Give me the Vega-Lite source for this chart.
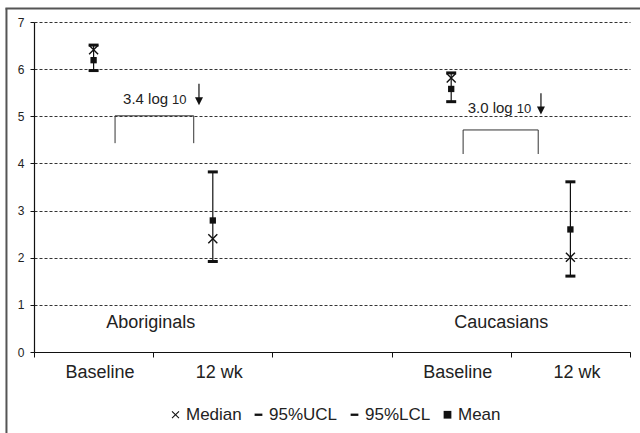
{
  "$schema": "https://vega.github.io/schema/vega-lite/v6.json",
  "autosize": "none",
  "width": 596,
  "height": 330,
  "padding": {"left": 34, "top": 22, "right": 10, "bottom": 81},
  "background": "white",
  "config": {
    "font": "Liberation Sans",
    "view": {"stroke": null},
    "axis": {"domainColor": "#111", "tickColor": "#111", "labelColor": "#222", "title": null, "domainWidth": 1.2},
    "axisY": {"grid": true, "gridDash": [3, 2], "gridColor": "#333", "gridWidth": 1, "tickSize": 4, "labelPadding": 6, "labelFontSize": 12, "values": [0, 1, 2, 3, 4, 5, 6, 7]},
    "axisX": {"grid": false}
  },
  "datasets": {
    "stats": [
      {"cat": "Aboriginals Baseline", "median": 6.41, "ucl": 6.51, "lcl": 5.97, "mean": 6.19},
      {"cat": "Aboriginals 12 wk", "median": 2.4, "ucl": 3.82, "lcl": 1.92, "mean": 2.79},
      {"cat": "Caucasians Baseline", "median": 5.81, "ucl": 5.92, "lcl": 5.31, "mean": 5.58},
      {"cat": "Caucasians 12 wk", "median": 2.01, "ucl": 3.61, "lcl": 1.61, "mean": 2.6}
    ],
    "bracket": [
      {"b": "A", "o": 1, "x": 0.68, "y": 4.43},
      {"b": "A", "o": 2, "x": 0.68, "y": 5.01},
      {"b": "A", "o": 3, "x": 1.34, "y": 5.01},
      {"b": "A", "o": 4, "x": 1.34, "y": 4.43},
      {"b": "C", "o": 1, "x": 3.6, "y": 4.2},
      {"b": "C", "o": 2, "x": 3.6, "y": 4.71},
      {"b": "C", "o": 3, "x": 4.23, "y": 4.71},
      {"b": "C", "o": 4, "x": 4.23, "y": 4.2}
    ],
    "arrows": [
      {"x": 1.384, "y": 5.69, "y2": 5.33, "tip": 5.33},
      {"x": 4.253, "y": 5.49, "y2": 5.13, "tip": 5.13}
    ],
    "groups": [
      {"text": "Aboriginals", "x": 0.98, "y": 0.61},
      {"text": "Caucasians", "x": 3.92, "y": 0.61}
    ],
    "logs": [
      {"text": "3.4 log", "x": 0.747, "y": 5.26},
      {"text": "3.0 log", "x": 3.638, "y": 5.07}
    ],
    "tens": [
      {"text": "10", "x": 1.158, "y": 5.26},
      {"text": "10", "x": 4.05, "y": 5.07}
    ]
  },
  "layer": [
    {
      "layer": [
        {
          "data": {"name": "bracket"},
          "mark": {"type": "line", "color": "#333", "strokeWidth": 1},
          "encoding": {
            "x": {"field": "x", "type": "quantitative", "scale": {"domain": [0, 5], "nice": false, "zero": false},
              "axis": {
                "values": [0, 0.5, 1, 1.5, 2, 2.5, 3, 3.5, 4, 4.5, 5],
                "labelExpr": "datum.value == 0.5 || datum.value == 3.5 ? 'Baseline' : (datum.value == 1.5 || datum.value == 4.5 ? '12 wk' : '')",
                "tickOpacity": {"condition": {"test": "datum.value % 1 != 0", "value": 0}, "value": 1},
                "tickSize": 5,
                "labelFontSize": 18,
                "labelPadding": 6,
                "labelOffset": 6,
                "labelFlush": false,
                "labelOverlap": false,
                "labelBound": false
              }},
            "y": {"field": "y", "type": "quantitative", "scale": {"domain": [0, 7], "nice": false, "zero": true}},
            "detail": {"field": "b"},
            "order": {"field": "o"}
          }
        },
        {
          "data": {"values": [{}]},
          "mark": {"type": "rule", "color": "#555", "strokeWidth": 2},
          "encoding": {
            "x": {"datum": -0.231, "type": "quantitative"},
            "y": {"datum": 7.287, "type": "quantitative"},
            "y2": {"datum": -2}
          }
        },
        {
          "data": {"values": [{}]},
          "mark": {"type": "rule", "color": "#555", "strokeWidth": 2},
          "encoding": {
            "x": {"datum": -0.24, "type": "quantitative"},
            "x2": {"datum": 5.2},
            "y": {"datum": 7.287, "type": "quantitative"}
          }
        },
        {
          "data": {"name": "arrows"},
          "mark": {"type": "rule", "color": "#111", "strokeWidth": 1.2},
          "encoding": {
            "x": {"field": "x", "type": "quantitative"},
            "y": {"field": "y", "type": "quantitative"},
            "y2": {"field": "y2"}
          }
        },
        {
          "data": {"name": "arrows"},
          "mark": {"type": "point", "shape": "M-1,-0.9L1,-0.9L0,1.1Z", "filled": true, "color": "#111", "size": 64, "opacity": 1},
          "encoding": {
            "x": {"field": "x", "type": "quantitative"},
            "y": {"field": "tip", "type": "quantitative"}
          }
        },
        {
          "data": {"name": "groups"},
          "mark": {"type": "text", "fontSize": 18, "color": "#222", "baseline": "middle", "align": "center"},
          "encoding": {
            "x": {"field": "x", "type": "quantitative"},
            "y": {"field": "y", "type": "quantitative"},
            "text": {"field": "text"}
          }
        },
        {
          "data": {"name": "logs"},
          "mark": {"type": "text", "fontSize": 15, "color": "#222", "baseline": "alphabetic", "align": "left"},
          "encoding": {
            "x": {"field": "x", "type": "quantitative"},
            "y": {"field": "y", "type": "quantitative"},
            "text": {"field": "text"}
          }
        },
        {
          "data": {"name": "tens"},
          "mark": {"type": "text", "fontSize": 13, "color": "#222", "baseline": "alphabetic", "align": "left"},
          "encoding": {
            "x": {"field": "x", "type": "quantitative"},
            "y": {"field": "y", "type": "quantitative"},
            "text": {"field": "text"}
          }
        }
      ]
    },
    {
      "layer": [
        {
          "data": {"name": "stats"},
          "mark": {"type": "rule", "color": "#111", "strokeWidth": 1.2},
          "encoding": {
            "x": {"field": "cat", "type": "nominal", "axis": null,
              "scale": {"type": "point", "padding": 0.5, "domain": ["Aboriginals Baseline", "Aboriginals 12 wk", "gap", "Caucasians Baseline", "Caucasians 12 wk"]}},
            "y": {"field": "lcl", "type": "quantitative"},
            "y2": {"field": "ucl"}
          }
        },
        {
          "data": {"name": "stats"},
          "transform": [{"fold": ["median", "ucl", "lcl", "mean"], "as": ["series", "value"]}],
          "mark": {"type": "point", "filled": true, "color": "#111", "strokeWidth": 0, "opacity": 1},
          "encoding": {
            "x": {"field": "cat", "type": "nominal", "axis": null},
            "y": {"field": "value", "type": "quantitative"},
            "shape": {"field": "series", "type": "nominal",
              "scale": {"domain": ["median", "ucl", "lcl", "mean"], "range": ["M-1,-0.8L-0.8,-1L1,0.8L0.8,1Z M-1,0.8L0.8,-1L1,-0.8L-0.8,1Z", "M-1,-0.3L1,-0.3L1,0.3L-1,0.3Z", "M-1,-0.3L1,-0.3L1,0.3L-1,0.3Z", "square"]},
              "legend": {
                "orient": "none",
                "legendX": 133,
                "legendY": 384,
                "direction": "horizontal",
                "title": null,
                "padding": 0,
                "labelExpr": "datum.value == 'median' ? '\u00a0Median' : datum.value == 'ucl' ? '95%UCL' : datum.value == 'lcl' ? '95%LCL' : 'Mean'",
                "labelFontSize": 17,
                "labelColor": "#222",
                "labelOffset": 2,
                "symbolSize": 60,
                "symbolFillColor": "#111",
                "symbolStrokeWidth": 0,
                "columnPadding": 8
              }},
            "size": {"field": "series", "type": "nominal", "legend": null,
              "scale": {"type": "ordinal", "domain": ["mean", "median", "ucl", "lcl"], "range": [40, 100, 100, 100]}}
          }
        }
      ]
    }
  ],
  "resolve": {"scale": {"x": "independent"}}
}
